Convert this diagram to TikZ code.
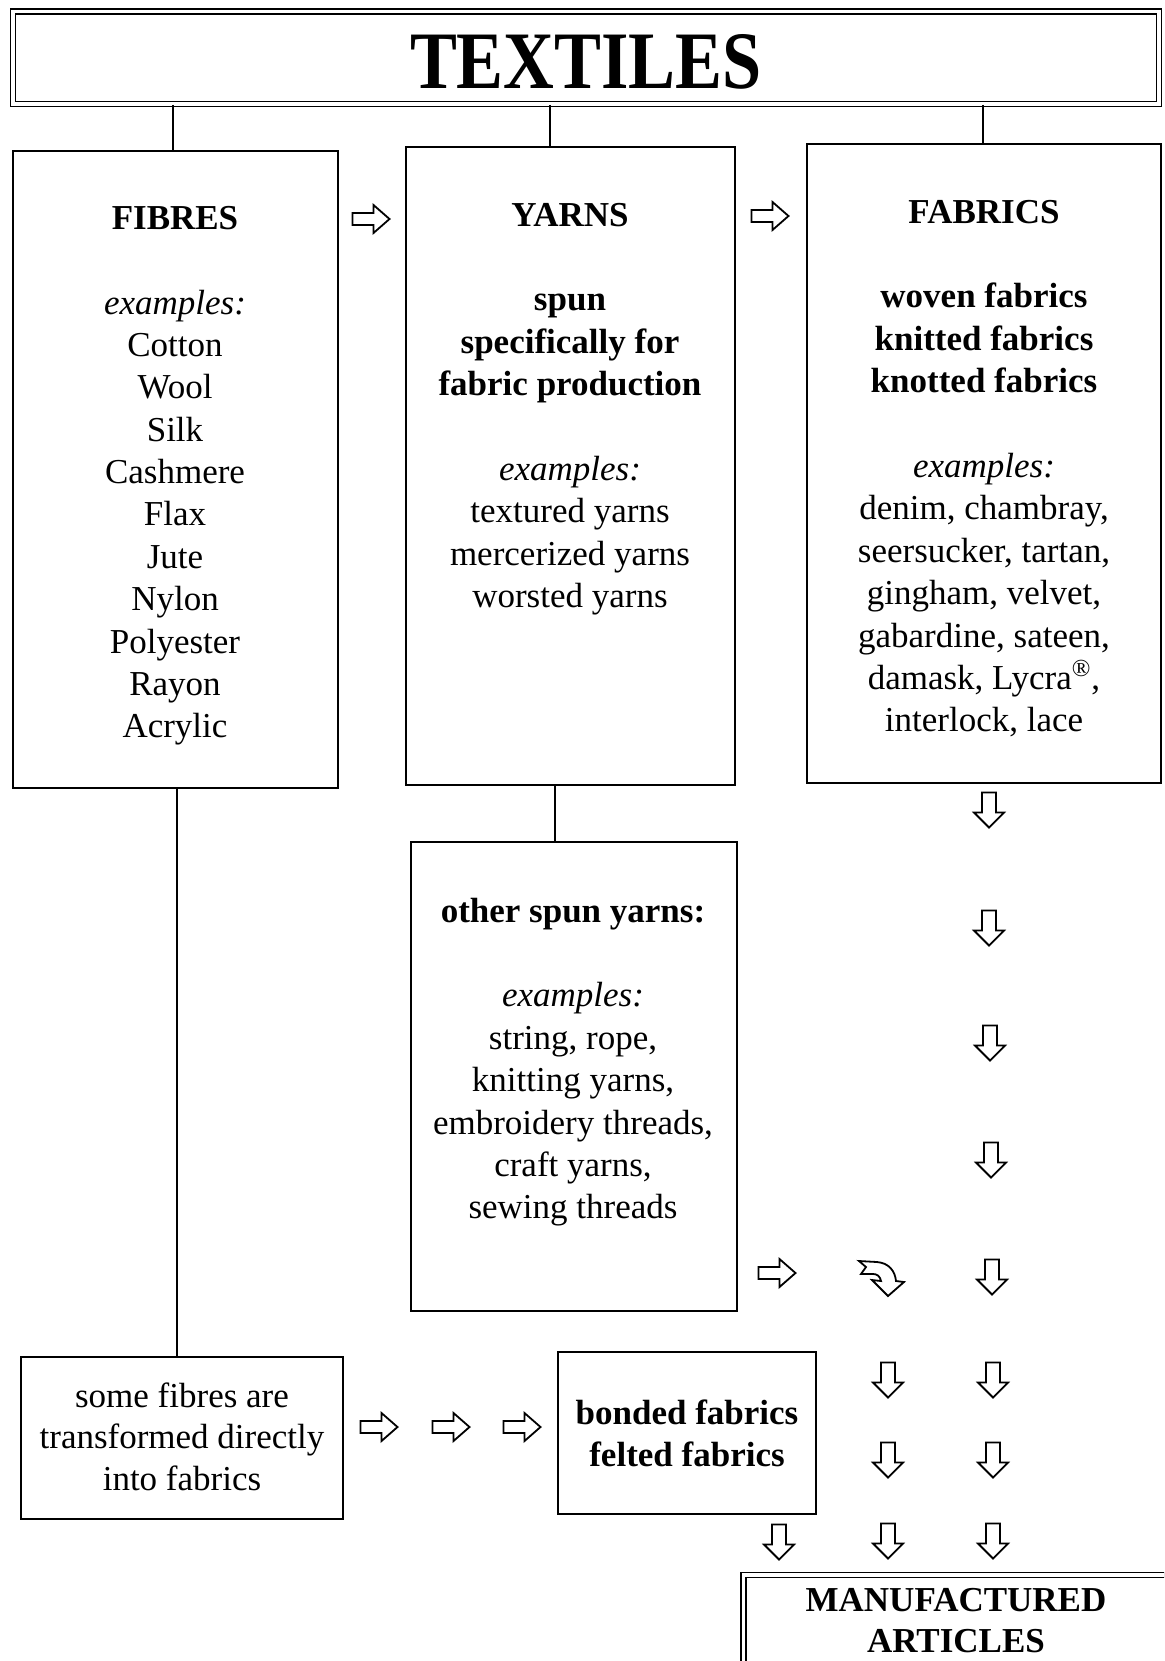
\documentclass[tikz,border=0pt]{standalone}
\usepackage{fontspec}
\setmainfont{Liberation Serif}
\usepackage{graphicx}
\usetikzlibrary{fit}
\newcommand\bodyfont{\fontsize{17.5}{21}\selectfont}
\tikzset{
  box/.style={draw, line width=0.9pt, inner sep=0pt},
  dbox/.style={draw, line width=0.9pt, double, double distance=1.6pt, inner sep=0pt},
  t/.style={anchor=base, inner sep=0pt, font=\bodyfont},
  tb/.style={anchor=base, inner sep=0pt, font=\bodyfont\bfseries},
  ti/.style={anchor=base, inner sep=0pt, font=\bodyfont\itshape},
  blk/.style={draw, line width=0.9pt, fill=white, line join=miter},
  conn/.style={line width=0.9pt},
  rarr/.pic={\path[blk] (-18.5,-6) -- (2.5,-6) -- (2.5,-14) -- (18.5,0) -- (2.5,14) -- (2.5,6) -- (-18.5,6) -- cycle;},
  darr/.pic={\path[blk] (-7,-17.5) -- (7,-17.5) -- (7,2.5) -- (15,2.5) -- (0,17.5) -- (-15,2.5) -- (-7,2.5) -- cycle;},
}
\begin{document}
\begin{tikzpicture}[x=0.5pt,y=-0.5pt]
\useasboundingbox (0,0) rectangle (1164,1661);
\clip (0,0) rectangle (1164,1661);
\fill[white] (0,0) rectangle (1164,1661);

% title
\node[dbox, fit={(13,11.5)(1159,104)}] (title) {};
\node[anchor=base, inner sep=0pt, font=\fontsize{40.8}{48}\selectfont\bfseries] (titletext) at (586,88) {\scalebox{0.862}[1]{TEXTILES}};

% boxes
\node[box, fit={(13,151)(338,788)}] (fibres) {};
\node[box, fit={(406,147)(735,785)}] (yarns) {};
\node[box, fit={(807,144)(1161,783)}] (fabrics) {};
\node[box, fit={(411,842)(737,1311)}] (other) {};
\node[box, fit={(21,1357)(343,1519)}] (direct) {};
\node[box, fit={(558,1352)(816,1514)}] (bonded) {};
\node[dbox, fit={(743.5,1575)(1200,1720)}] (manuf) {};

% connectors
\coordinate (c1) at (173,0);
\coordinate (c2) at (550,0);
\coordinate (c3) at (983,0);
\coordinate (c4) at (555,0);
\coordinate (c5) at (177,0);
\draw[conn] (title.south -| c1) -- (fibres.north -| c1);
\draw[conn] (title.south -| c2) -- (yarns.north -| c2);
\draw[conn] (title.south -| c3) -- (fabrics.north -| c3);
\draw[conn] (yarns.south -| c4) -- (other.north -| c4);
\draw[conn] (fibres.south -| c5) -- (direct.north -| c5);

% FIBRES text
\node[tb] (f0) at (175,229) {FIBRES};
\node[ti] (f2) at (175,314) {examples:};
\node[t] (f3) at (175,356.2) {Cotton};
\node[t] (f4) at (175,398.6) {Wool};
\node[t] (f5) at (175,441) {Silk};
\node[t] (f6) at (175,483.4) {Cashmere};
\node[t] (f7) at (175,525.8) {Flax};
\node[t] (f8) at (175,568.2) {Jute};
\node[t] (f9) at (175,610.6) {Nylon};
\node[t] (f10) at (175,653) {Polyester};
\node[t] (f11) at (175,695.4) {Rayon};
\node[t] (f12) at (175,737.8) {Acrylic};

% YARNS text
\node[tb] (y0) at (570,226) {YARNS};
\node[tb] (y2) at (570,310.8) {spun};
\node[tb] (y3) at (570,353.2) {specifically for};
\node[tb] (y4) at (570,395.6) {fabric production};
\node[ti] (y6) at (570,480.4) {examples:};
\node[t] (y7) at (570,522.8) {textured yarns};
\node[t] (y8) at (570,565.2) {mercerized yarns};
\node[t] (y9) at (570,607.6) {worsted yarns};

% FABRICS text
\node[tb] (b0) at (984,223) {FABRICS};
\node[tb] (b2) at (984,307.8) {woven fabrics};
\node[tb] (b3) at (984,350.2) {knitted fabrics};
\node[tb] (b4) at (984,392.6) {knotted fabrics};
\node[ti] (b6) at (984,477.4) {examples:};
\node[t] (b7) at (984,519.8) {denim, chambray,};
\node[t] (b8) at (984,562.2) {seersucker, tartan,};
\node[t] (b9) at (984,604.6) {gingham, velvet,};
\node[t] (b10) at (984,647) {gabardine, sateen,};
\node[t] (b11) at (984,689.4) {damask, Lycra\textsuperscript{®},};
\node[t] (b12) at (984,731.8) {interlock, lace};

% other spun yarns text
\node[tb] (o0) at (573,922) {other spun yarns:};
\node[ti] (o2) at (573,1006.8) {examples:};
\node[t] (o3) at (573,1049.2) {string, rope,};
\node[t] (o4) at (573,1091.6) {knitting yarns,};
\node[t] (o5) at (573,1134) {embroidery threads,};
\node[t] (o6) at (573,1176.4) {craft yarns,};
\node[t] (o7) at (573,1218.8) {sewing threads};

% direct text
\node[t] (d0) at (182,1407) {some fibres are};
\node[t] (d1) at (182,1448.5) {transformed directly};
\node[t] (d2) at (182,1490) {into fabrics};

% bonded text
\node[tb] (n0) at (687,1424) {bonded fabrics};
\node[tb] (n1) at (687,1466) {felted fabrics};

% manufactured text
\node[tb] (m0) at (956,1611) {MANUFACTURED};
\node[tb] (m1) at (956,1652) {ARTICLES};

% right arrows
\pic at (371,219) {rarr};
\pic at (770,216) {rarr};
\pic at (777,1273) {rarr};
\pic at (379,1427) {rarr};
\pic at (451,1427) {rarr};
\pic at (522,1427) {rarr};

% down arrows
\pic at (989,810) {darr};
\pic at (989,928) {darr};
\pic at (990,1043) {darr};
\pic at (991,1160) {darr};
\pic at (992,1277) {darr};
\pic at (993,1380) {darr};
\pic at (993,1460) {darr};
\pic at (993,1541) {darr};
\pic at (888,1380) {darr};
\pic at (888,1460) {darr};
\pic at (888,1541) {darr};
\pic at (779,1542) {darr};

% curved arrow
\path[blk] (859,1261) -- (877,1262) .. controls (889,1263) and (895,1271) .. (896,1281)
  -- (904,1282) -- (888,1296) -- (872,1280) -- (881,1281)
  .. controls (880,1276) and (877,1274) .. (873,1274) -- (861,1274) -- (866,1267) -- cycle;
\end{tikzpicture}
\end{document}
